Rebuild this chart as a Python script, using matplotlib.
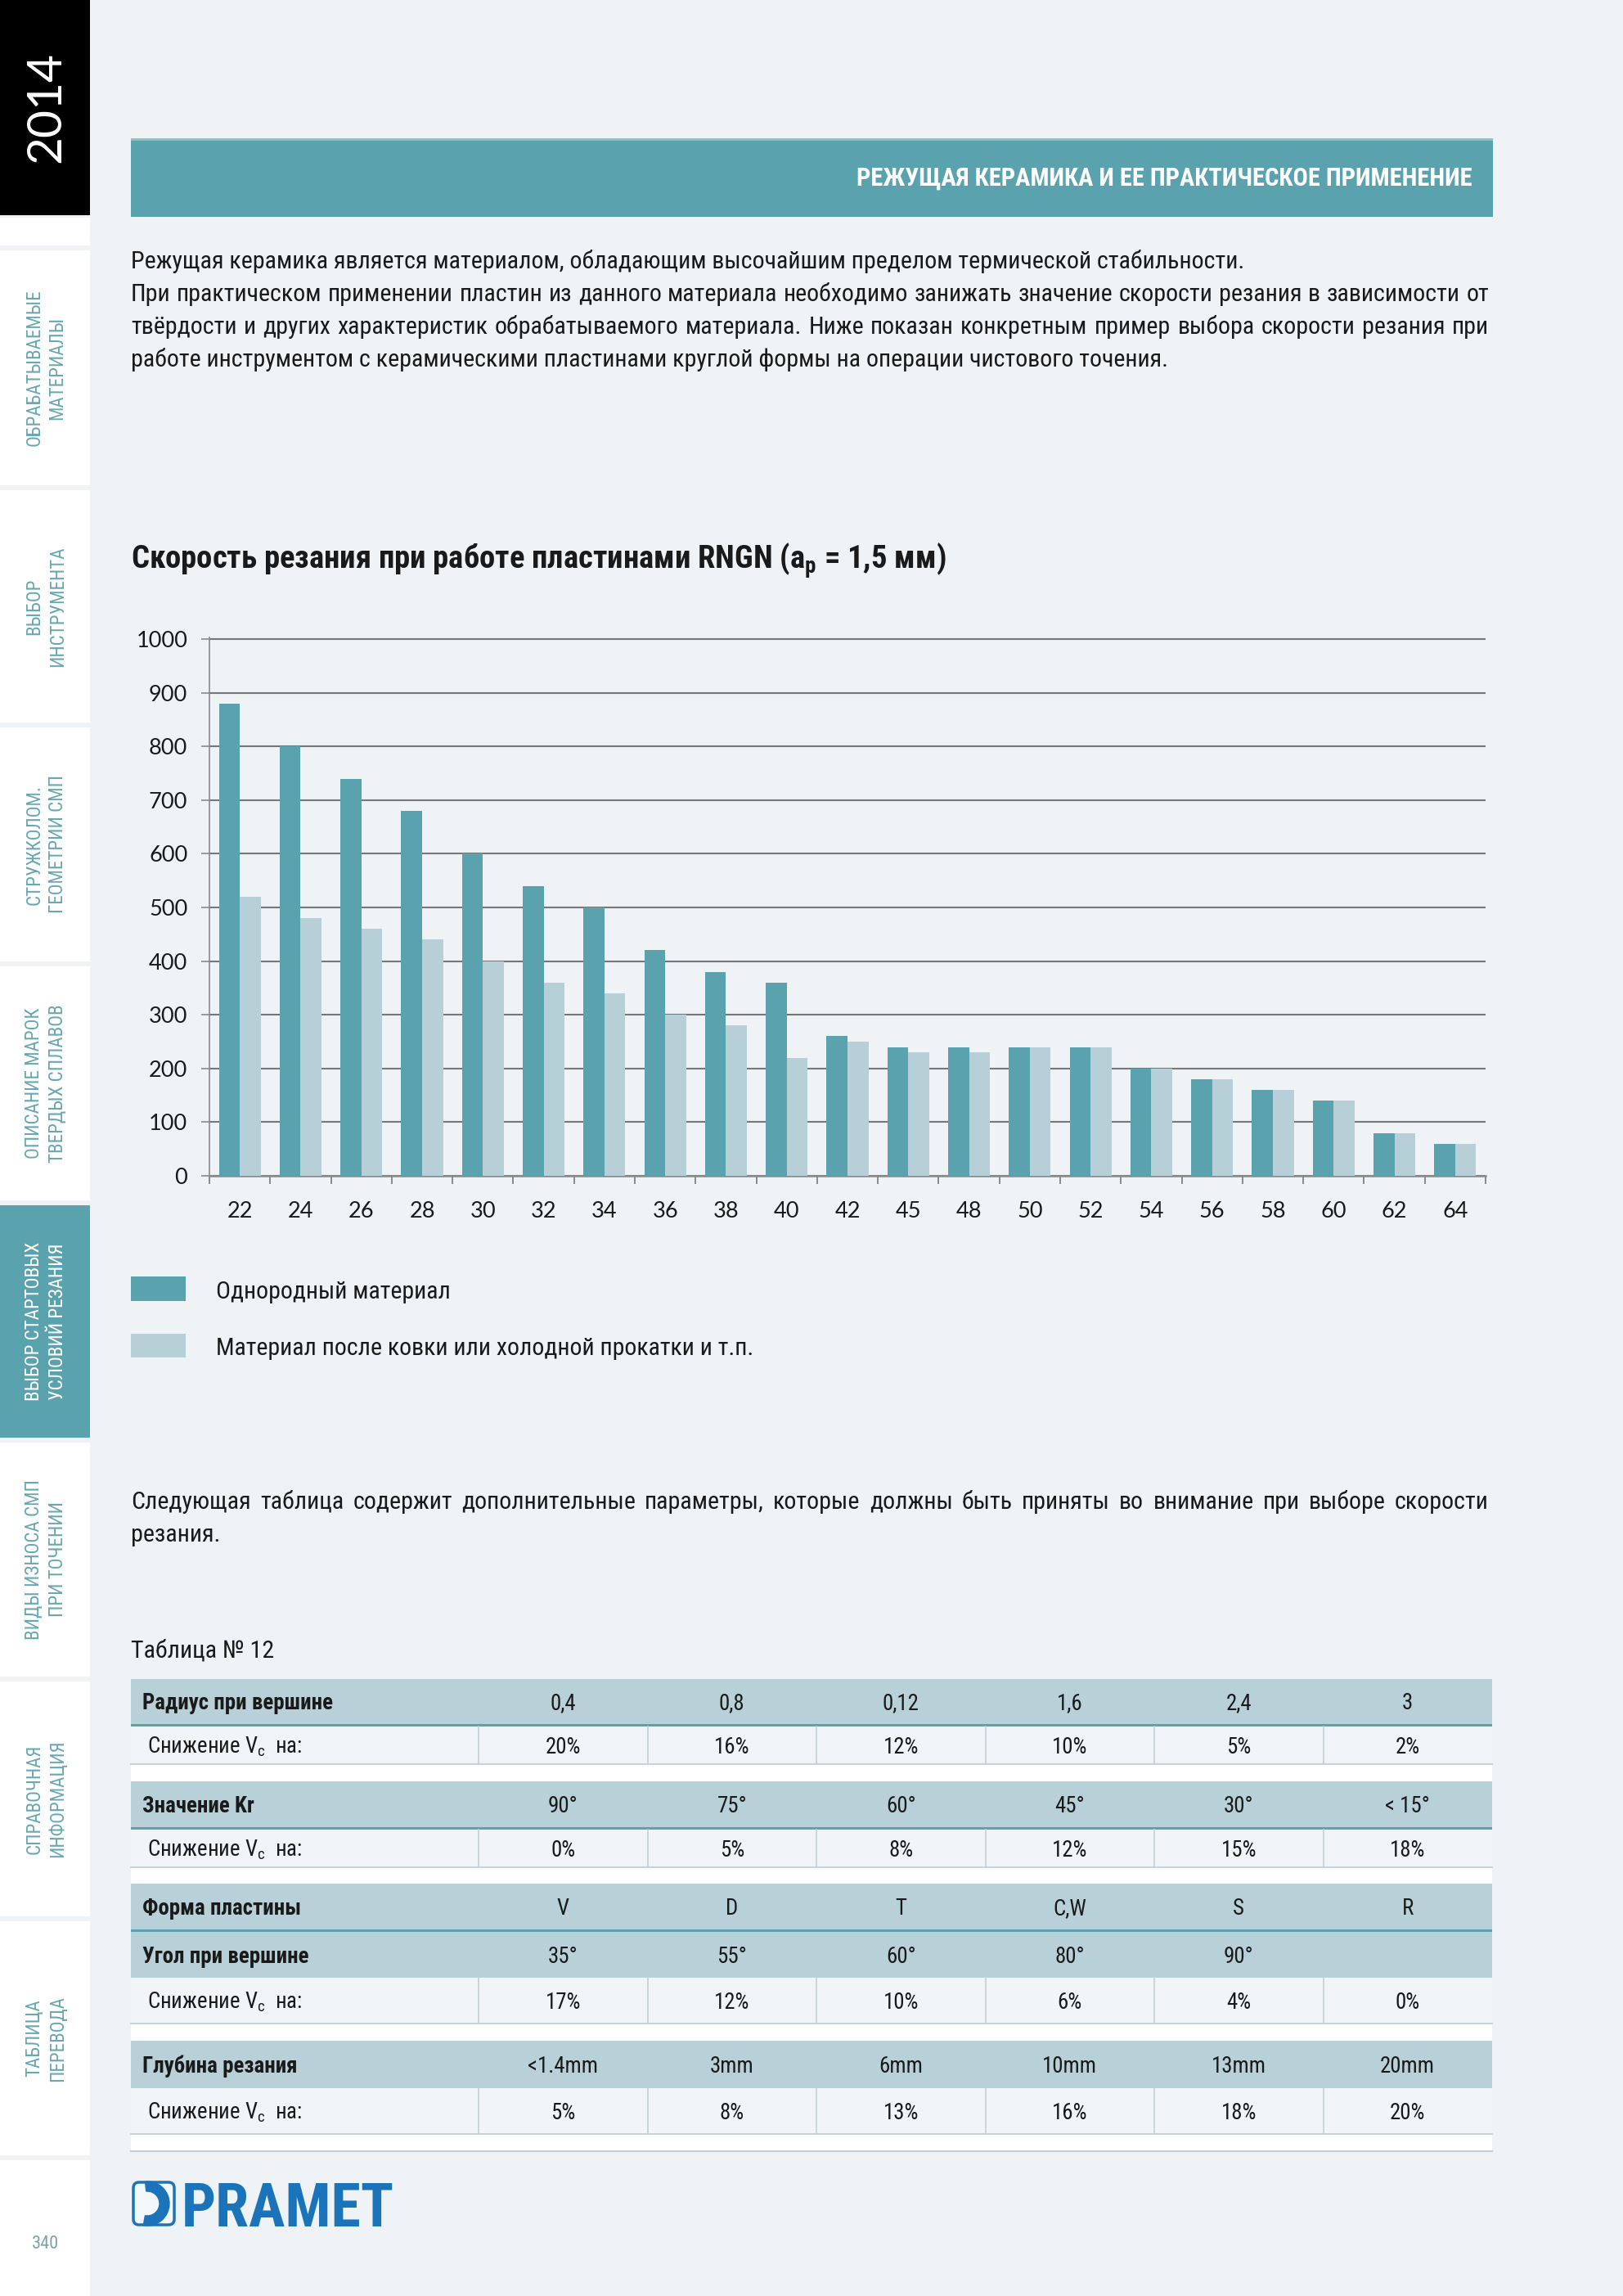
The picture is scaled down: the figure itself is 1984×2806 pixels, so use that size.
import matplotlib
matplotlib.use('Agg')
import matplotlib.pyplot as plt
from matplotlib import font_manager as fm
from matplotlib.patches import Rectangle, FancyBboxPatch, Wedge
import numpy as np

# ---------------- data ----------------
hardness = [22, 24, 26, 28, 30, 32, 34, 36, 38, 40, 42, 45, 48, 50, 52, 54, 56, 58, 60, 62, 64]
homogeneous = [880, 800, 740, 680, 600, 540, 500, 420, 380, 360, 260, 240, 240, 240, 240, 200, 180, 160, 140, 80, 60]
forged = [520, 480, 460, 440, 400, 360, 340, 300, 280, 220, 250, 230, 230, 240, 240, 200, 180, 160, 140, 80, 60]
y_ticks = [0, 100, 200, 300, 400, 500, 600, 700, 800, 900, 1000]
legend_labels = ["Однородный материал", "Материал после ковки или холодной прокатки и т.п."]

chart_title = "Скорость резания при работе пластинами RNGN (a$_\\mathregular{p}$ = 1,5 мм)"
header_title = "РЕЖУЩАЯ КЕРАМИКА И ЕЕ ПРАКТИЧЕСКОЕ ПРИМЕНЕНИЕ"
intro_lines = [
    "Режущая керамика является материалом, обладающим высочайшим пределом термической стабильности.",
    "При практическом применении пластин из данного материала необходимо занижать значение скорости резания в зависимости от",
    "твёрдости и других характеристик обрабатываемого материала. Ниже показан конкретным пример выбора скорости резания при",
    "работе инструментом с керамическими пластинами круглой формы на операции чистового точения.",
]
intro_justify = [False, True, True, False]
table_intro_lines = [
    "Следующая таблица содержит дополнительные параметры, которые должны быть приняты во внимание при выборе скорости",
    "резания.",
]
table_caption = "Таблица № 12"

sidebar_sections = [
    "ОБРАБАТЫВАЕМЫЕ\nМАТЕРИАЛЫ",
    "ВЫБОР\nИНСТРУМЕНТА",
    "СТРУЖКОЛОМ.\nГЕОМЕТРИИ СМП",
    "ОПИСАНИЕ МАРОК\nТВЕРДЫХ СПЛАВОВ",
    "ВЫБОР СТАРТОВЫХ\nУСЛОВИЙ РЕЗАНИЯ",
    "ВИДЫ ИЗНОСА СМП\nПРИ ТОЧЕНИИ",
    "СПРАВОЧНАЯ\nИНФОРМАЦИЯ",
    "ТАБЛИЦА\nПЕРЕВОДА",
]
active_section = 4
year_label = "2014"
page_number = "340"
logo_text = "PRAMET"

reduce_label = "Снижение V$_\\mathregular{c}$  на:"
radius_label = "Радиус при вершине"
radius_vals = ["0,4", "0,8", "0,12", "1,6", "2,4", "3"]
radius_red = ["20%", "16%", "12%", "10%", "5%", "2%"]
kr_label = "Значение Kr"
kr_vals = ["90°", "75°", "60°", "45°", "30°", "< 15°"]
kr_red = ["0%", "5%", "8%", "12%", "15%", "18%"]
shape_label = "Форма пластины"
shape_vals = ["V", "D", "T", "C,W", "S", "R"]
angle_label = "Угол при вершине"
angle_vals = ["35°", "55°", "60°", "80°", "90°", ""]
shape_red = ["17%", "12%", "10%", "6%", "4%", "0%"]
depth_label = "Глубина резания"
depth_vals = ["<1.4mm", "3mm", "6mm", "10mm", "13mm", "20mm"]
depth_red = ["5%", "8%", "13%", "16%", "18%", "20%"]

# ---------------- style ----------------
W, H, DPI = 1984, 2806, 100
BG = '#eff3f6'
TEAL = '#5aa3ae'
LIGHT = '#b7d0d8'
BAND = '#b8d0d8'
SIDE_TXT = '#69a8b1'
TXT = '#1a1a1a'
GRID = '#777777'
AXC = '#8a8a8a'
BLUE = '#1b73b9'

avail = {f.name for f in fm.fontManager.ttflist}
def pick(*names):
    for n in names:
        if n in avail:
            return n
    return 'DejaVu Sans'

NARROW = pick('Liberation Sans Narrow', 'Roboto Condensed', 'Open Sans Condensed', 'Liberation Sans', 'Roboto')
CHARTF = pick('Lato', 'Open Sans', 'Noto Sans', 'DejaVu Sans')
THIN = pick('Lato', 'Roboto', 'Open Sans', 'DejaVu Sans')

plt.rcParams['font.family'] = [NARROW, 'DejaVu Sans']
plt.rcParams['mathtext.fontset'] = 'custom'
plt.rcParams['mathtext.rm'] = NARROW
plt.rcParams['mathtext.it'] = NARROW + ':italic'
plt.rcParams['mathtext.bf'] = NARROW + ':bold'

fig = plt.figure(figsize=(W / DPI, H / DPI), dpi=DPI, facecolor=BG)
page = fig.add_axes([0, 0, 1, 1])
page.set_xlim(0, W)
page.set_ylim(H, 0)
page.axis('off')
renderer = fig.canvas.get_renderer()

PX = DPI / 72.0  # px per pt


def twidth(s, size, family=NARROW, weight='normal'):
    t = page.text(0, 0, s, fontsize=size, family=family, fontweight=weight)
    w = t.get_window_extent(renderer).width
    t.remove()
    return w


def fit(s, target, family=NARROW, weight='normal', base=20.0):
    return base * target / twidth(s, base, family, weight)


def rect(x0, y0, x1, y1, **kw):
    page.add_patch(Rectangle((x0, y0), x1 - x0, y1 - y0, lw=0, **kw))


def justify(line, x0, x1, y, size, color=TXT, family=NARROW):
    words = line.split(' ')
    ws = [twidth(w, size, family) for w in words]
    gap = (x1 - x0 - sum(ws)) / (len(words) - 1)
    x = x0
    for w, wd in zip(words, ws):
        page.text(x, y, w, fontsize=size, family=family, color=color, ha='left', va='baseline')
        x += wd + gap


# ---------------- sidebar ----------------
rect(0, 0, 110, 263, color='black')
page.text(57, 131, year_label, rotation=90, color='white', family=THIN, fontweight='normal',
          fontsize=fit(year_label, 136, THIN, 'normal'), ha='center', va='center')
dividers = [263, 303, 596, 886, 1178, 1470, 1760, 2052, 2345, 2637, H + 5]
side_size = fit("ВЫБОР СТАРТОВЫХ", 195)
for i in range(len(dividers) - 1):
    y0 = dividers[i] + 3
    y1 = dividers[i + 1] - 3
    sec = i - 1
    col = TEAL if sec == active_section else 'white'
    rect(0, y0, 110, y1, color=col)
    if 0 <= sec < len(sidebar_sections):
        page.text(56, (y0 + y1) / 2, sidebar_sections[sec], rotation=90, ha='center', va='center',
                  multialignment='center', linespacing=1.3, fontsize=side_size,
                  color='white' if sec == active_section else SIDE_TXT)
page.text(55, 2743, page_number, ha='center', va='center', color='#7aa5ab', fontsize=16)

# ---------------- header ----------------
rect(160, 169, 1825, 265, color=TEAL)
rect(160, 169, 1825, 172, color='#8cc0c8')
page.text(1800, 218, header_title, color='white', fontweight='bold', ha='right', va='center',
          fontsize=fit(header_title, 753, NARROW, 'bold'))

# ---------------- intro paragraph ----------------
para_size = fit(intro_lines[0], 1363)
for k, (line, just) in enumerate(zip(intro_lines, intro_justify)):
    yb = 328 + 40 * k
    if just:
        justify(line, 160, 1820, yb, para_size)
    else:
        page.text(160, yb, line, fontsize=para_size, color=TXT, ha='left', va='baseline')

# ---------------- chart title ----------------
page.text(160, 695, chart_title, fontweight='bold', color=TXT, ha='left', va='baseline',
          fontsize=fit(chart_title, 996, NARROW, 'bold'))

# ---------------- chart ----------------
y0px, y1px = 1437, 781
ytop = 1003
ppu = (y0px - y1px) / 1000.0
axh = ppu * ytop
ax = fig.add_axes([256 / W, 1 - y0px / H, (1816 - 256) / W, axh / H])
ax.set_facecolor('none')
xs = np.arange(len(hardness))
bw = 0.345
ax.bar(xs - bw / 2, homogeneous, bw, color=TEAL, zorder=3, linewidth=0)
ax.bar(xs + bw / 2, forged, bw, color=LIGHT, zorder=3, linewidth=0)
ax.set_xlim(-0.5, len(hardness) - 0.5)
ax.set_ylim(0, ytop)
ax.set_yticks(y_ticks)
ax.yaxis.grid(True, color=GRID, linewidth=1.5)
ax.set_axisbelow(True)
ax.set_xticks(np.arange(len(hardness) + 1) - 0.5)
ax.set_xticklabels([])
ax.set_xticks(xs, minor=True)
ax.set_xticklabels([str(h) for h in hardness], minor=True)
tick_size = fit("1000", 63, CHARTF)
for lab in ax.get_xticklabels(minor=True) + ax.get_yticklabels():
    lab.set_family(CHARTF)
    lab.set_fontsize(tick_size)
    lab.set_color(TXT)
ax.tick_params(axis='x', which='major', length=7.2, width=1.4, color=AXC, direction='out')
ax.tick_params(axis='x', which='minor', length=0, pad=22)
ax.tick_params(axis='y', length=7.2, width=1.2, color=AXC, pad=12)
for s in ['top', 'right']:
    ax.spines[s].set_visible(False)
ax.spines['left'].set_color(AXC)
ax.spines['left'].set_linewidth(1.2)
ax.spines['bottom'].set_color(AXC)
ax.spines['bottom'].set_linewidth(1.8)

# ---------------- legend ----------------
leg_size = fit(legend_labels[1], 658)
rect(160, 1560, 227, 1590, color=TEAL)
rect(160, 1630, 227, 1659, color=LIGHT)
page.text(264, 1587, legend_labels[0], fontsize=leg_size, color=TXT, ha='left', va='baseline')
page.text(264, 1656, legend_labels[1], fontsize=leg_size, color=TXT, ha='left', va='baseline')

# ---------------- table intro ----------------
justify(table_intro_lines[0], 160, 1820, 1844, para_size)
page.text(160, 1884, table_intro_lines[1], fontsize=para_size, color=TXT, ha='left', va='baseline')
page.text(160, 2026, table_caption, fontsize=para_size, color=TXT, ha='left', va='baseline')

# ---------------- table ----------------
TX0, TX1 = 160, 1824
edges = [585 + i * (TX1 - 585) / 6.0 for i in range(7)]
centers = [(edges[i] + edges[i + 1]) / 2 for i in range(6)]
tsize = fit(radius_label, 231, NARROW, 'bold')
cap_half = 0.36 * tsize * PX

layout = [
    ('band', 2052, 2107, radius_label, radius_vals, True),
    ('row', 2110, 2156, reduce_label, radius_red, False),
    ('gap', 2156, 2177, None, None, False),
    ('band', 2177, 2233, kr_label, kr_vals, True),
    ('row', 2236, 2282, reduce_label, kr_red, False),
    ('gap', 2282, 2302, None, None, False),
    ('band', 2302, 2358, shape_label, shape_vals, True),
    ('band', 2361, 2417, angle_label, angle_vals, False),
    ('row', 2417, 2473, reduce_label, shape_red, False),
    ('gap', 2473, 2494, None, None, False),
    ('band', 2494, 2552, depth_label, depth_vals, False),
    ('row', 2552, 2608, reduce_label, depth_red, False),
    ('gap', 2608, 2629, None, None, False),
]
for kind, a, b, label, vals, tline in layout:
    if kind == 'gap':
        rect(TX0, a, TX1, b, color='white')
        continue
    if kind == 'band':
        rect(TX0, a, TX1, b, color=BAND)
        if tline:
            rect(TX0, b, TX1, b + 3, color=TEAL)
        page.text(174, (a + b) / 2 + cap_half, label, fontweight='bold', fontsize=tsize, color=TXT,
                  ha='left', va='baseline')
    else:
        rect(TX0, a, TX1, b, color='#f1f5f8')
        page.plot([TX0, TX1], [b, b], color='#c4d0d5', lw=1.3)
        for e in edges[:-1]:
            page.plot([e, e], [a, b], color='#c4d0d5', lw=1.2)
        page.text(180, (a + b) / 2 + cap_half, label, fontsize=tsize, color=TXT, ha='left', va='baseline')
    for c, v in zip(centers, vals):
        page.text(c, (a + b) / 2 + cap_half, v, fontsize=tsize, color=TXT, ha='center', va='baseline')
page.plot([TX0, TX1], [2629, 2629], color='#c4d0d5', lw=1.5)

# ---------------- logo ----------------
page.add_patch(FancyBboxPatch((163, 2667), 50, 52, boxstyle='round,pad=0,rounding_size=7',
                              fc='#f4f8fb', ec=BLUE, lw=2.5))
page.add_patch(Wedge((180, 2693), 27, -95, 100, width=12, color=BLUE))
page.text(222, 2721, logo_text, fontweight='bold', color=BLUE, ha='left', va='baseline',
          fontsize=fit(logo_text, 260, NARROW, 'bold'))

fig.savefig('out.png', dpi=DPI, facecolor=BG)
